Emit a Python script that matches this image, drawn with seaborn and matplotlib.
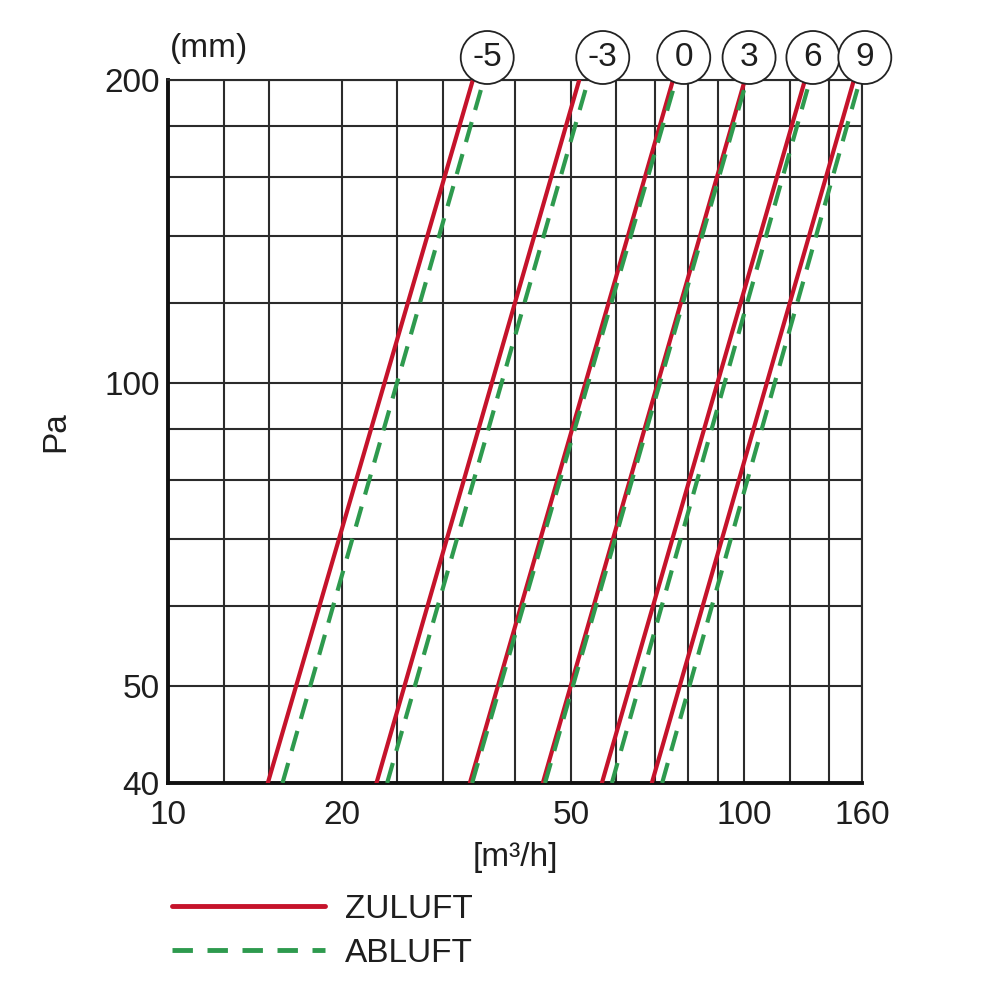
import numpy as np
import pandas as pd
import matplotlib
matplotlib.use("Agg")
import matplotlib.pyplot as plt
import matplotlib.transforms as mtransforms
from matplotlib.ticker import FixedLocator, NullFormatter, FixedFormatter
from matplotlib.lines import Line2D
import seaborn as sns

# ---------------- data ----------------
curve_labels = ["-5", "-3", "0", "3", "6", "9"]
pa_range = [40, 200]
zuluft_q_low = [14.9, 23.0, 33.4, 44.7, 56.6, 69.1]
zuluft_q_high = [33.8, 51.7, 75.2, 100.2, 127.4, 154.9]
abluft_q_low = [15.8, 24.0, 33.7, 45.1, 58.9, 72.0]
abluft_q_high = [35.3, 53.6, 76.1, 101.0, 130.0, 158.7]

x_tick_values = [10, 20, 50, 100, 160]
y_tick_values = [40, 50, 100, 200]
x_grid_values = [12.5, 15, 25, 30, 40, 60, 70, 80, 90, 120, 140]
y_grid_values = [60, 70, 80, 90, 120, 140, 160, 180]
series_names = ["ZULUFT", "ABLUFT"]

# layout: x position (data units) of circled curve labels
label_x_pos = [35.8, 56.8, 78.5, 101.9, 131.5, 161.8]

# ---------------- build table ----------------
rows = []
for name, lows, highs in [("ZULUFT", zuluft_q_low, zuluft_q_high),
                          ("ABLUFT", abluft_q_low, abluft_q_high)]:
    for lab, ql, qh in zip(curve_labels, lows, highs):
        rows.append({"type": name, "curve": lab, "Q": ql, "Pa": pa_range[0]})
        rows.append({"type": name, "curve": lab, "Q": qh, "Pa": pa_range[1]})
df = pd.DataFrame(rows)

RED = "#C5132B"
GREEN = "#2E9A4E"
TXT = "#1e1e1e"
GRID = "#2b2b2b"
FS = 24

sns.set_theme(style="white")
plt.rcParams["font.family"] = ["Liberation Sans", "DejaVu Sans"]

fig = plt.figure(figsize=(10, 10), dpi=100)
ax = fig.add_axes([0.168, 0.217, 0.694, 0.703])
ax.set_xscale("log")
ax.set_yscale("log")

sns.lineplot(data=df, x="Q", y="Pa", hue="type", style="type", units="curve",
             estimator=None, sort=False, hue_order=series_names, style_order=series_names,
             palette={"ZULUFT": RED, "ABLUFT": GREEN},
             dashes={"ZULUFT": "", "ABLUFT": (5, 3)},
             linewidth=3, legend=False, ax=ax, zorder=3)

ax.set_xlim(10, 160)
ax.set_ylim(40, 200)

ax.xaxis.set_major_locator(FixedLocator(x_tick_values))
ax.xaxis.set_major_formatter(FixedFormatter([str(v) for v in x_tick_values]))
ax.xaxis.set_minor_locator(FixedLocator(x_grid_values))
ax.xaxis.set_minor_formatter(NullFormatter())
ax.yaxis.set_major_locator(FixedLocator(y_tick_values))
ax.yaxis.set_major_formatter(FixedFormatter([str(v) for v in y_tick_values]))
ax.yaxis.set_minor_locator(FixedLocator(y_grid_values))
ax.yaxis.set_minor_formatter(NullFormatter())

ax.grid(which="both", color=GRID, linewidth=1.5)
ax.set_axisbelow(True)
ax.tick_params(which="both", length=0, labelsize=FS, labelcolor=TXT)
ax.tick_params(axis="x", pad=12)
ax.tick_params(axis="y", pad=6)

for s in ["left", "bottom"]:
    ax.spines[s].set_color("#111111")
    ax.spines[s].set_linewidth(2.8)
for s in ["top", "right"]:
    ax.spines[s].set_color(GRID)
    ax.spines[s].set_linewidth(1.5)

ax.set_xlabel("[m³/h]", fontsize=FS, color=TXT, labelpad=8)
ax.set_ylabel("Pa", fontsize=FS, color=TXT, labelpad=24)

fig.text(0.209, 0.951, "(mm)", fontsize=FS, color=TXT, ha="center", va="center")

trans = mtransforms.blended_transform_factory(ax.transData, ax.transAxes)
for lab, xp in zip(curve_labels, label_x_pos):
    ax.text(xp, 1.032, lab, transform=trans, ha="center", va="center",
            fontsize=FS, color=TXT, clip_on=False, zorder=5,
            bbox=dict(boxstyle="circle,pad=0.33", fc="white", ec="#222222", lw=1.3))

handles = [Line2D([], [], color=RED, lw=3.5),
           Line2D([], [], color=GREEN, lw=3.5, dashes=(4.2, 3))]
fig.legend(handles, series_names, loc="upper left", bbox_to_anchor=(0.172, 0.106),
           frameon=False, fontsize=FS, handlelength=4.6, handletextpad=0.6,
           labelspacing=0.38, borderpad=0, borderaxespad=0, labelcolor=TXT)

fig.savefig("out.png", dpi=100)
